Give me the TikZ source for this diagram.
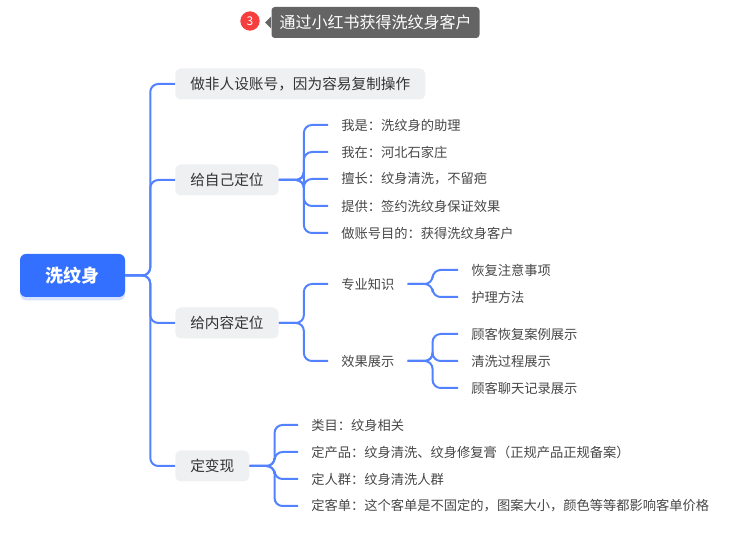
\documentclass[tikz,border=0pt]{standalone}
\usepackage{fontspec}
\setmainfont{Noto Sans CJK SC}
\definecolor{mmblue}{RGB}{51,112,255}
\definecolor{mmline}{RGB}{82,130,255}
\definecolor{mmgray}{RGB}{239,240,242}
\definecolor{mmtext}{RGB}{51,51,51}
\definecolor{mmdark}{RGB}{100,100,100}
\definecolor{mmred}{RGB}{245,63,63}
\usetikzlibrary{positioning,shadows}

\begin{document}
\begin{tikzpicture}[x=0.75pt,y=-0.75pt,
  root/.style={fill=mmblue,rounded corners=4.5pt,text=white,minimum width=78.75pt,minimum height=32.25pt,font=\fontsize{13.5}{16}\selectfont\bfseries,drop shadow={shadow xshift=0pt,shadow yshift=-2.5pt,opacity=0.2,fill=mmblue}},
  topic/.style={anchor=west,fill=mmgray,rounded corners=4pt,text=mmtext,minimum height=23.25pt,inner xsep=11.25pt,font=\fontsize{11}{13}\selectfont},
  leaf/.style={anchor=west,inner xsep=9.75pt,inner ysep=2pt,text=mmtext!90,font=\fontsize{9.95}{12}\selectfont},
  link/.style={draw=mmline,line width=1.5pt,rounded corners=6pt}]
  \useasboundingbox (0,0) rectangle (747,534);

  % title tag
  \node[fill=mmdark,rounded corners=2.5pt,text=white,minimum height=23.25pt,inner xsep=6pt,font=\fontsize{12}{14}\selectfont] (title) at (375.5,22.5) {通过小红书获得洗纹身客户};
  \fill[mmdark] (title.west) ++(0,-6) -- ++(-6,6) -- ++(6,6) -- cycle;
  \node[circle,fill=mmred,text=white,minimum size=14.5pt,inner sep=0pt,font=\fontsize{9}{10}\selectfont] (badge) at (250,21) {3};

  % root and first level
  \node[root] (root) at (72.5,275.5) {洗纹身};
  \node[topic] (t1) at (175,84) {做非人设账号，因为容易复制操作};
  \node[topic] (t2) at (175,180) {给自己定位};
  \node[topic] (t3) at (175,323) {给内容定位};
  \node[topic] (t4) at (175,466) {定变现};
  \foreach \t in {t1,t2,t3,t4}
    \draw[link] (root.east) -- ++(25,0) |- (\t.west);

  % 给自己定位
  \node[leaf] (a1) at (328,125) {我是：洗纹身的助理};
  \node[leaf] (a2) at (328,152) {我在：河北石家庄};
  \node[leaf] (a3) at (328,179) {擅长：纹身清洗，不留疤};
  \node[leaf] (a4) at (328,206) {提供：签约洗纹身保证效果};
  \node[leaf] (a5) at (328,233) {做账号目的：获得洗纹身客户};
  \foreach \l in {a1,a2,a3,a4,a5}
    \draw[link] (t2.east) -- ++(25,0) |- (\l.west);

  % 给内容定位
  \node[leaf] (b1) at (328,284) {专业知识};
  \node[leaf] (b2) at (328,361) {效果展示};
  \foreach \l in {b1,b2}
    \draw[link] (t3.east) -- ++(25,0) |- (\l.west);
  \node[leaf] (b11) at (458,270) {恢复注意事项};
  \node[leaf] (b12) at (458,297) {护理方法};
  \foreach \l in {b11,b12}
    \draw[link] (b1.east) -- ++(25,0) |- (\l.west);
  \node[leaf] (b21) at (458,334) {顾客恢复案例展示};
  \node[leaf] (b22) at (458,361) {清洗过程展示};
  \node[leaf] (b23) at (458,388) {顾客聊天记录展示};
  \foreach \l in {b21,b22,b23}
    \draw[link] (b2.east) -- ++(25,0) |- (\l.west);

  % 定变现
  \node[leaf] (c1) at (298,425) {类目：纹身相关};
  \node[leaf] (c2) at (298,452) {定产品：纹身清洗、纹身修复膏（正规产品正规备案）};
  \node[leaf] (c3) at (298,479) {定人群：纹身清洗人群};
  \node[leaf] (c4) at (298,506) {定客单：这个客单是不固定的，图案大小，颜色等等都影响客单价格};
  \foreach \l in {c1,c2,c3,c4}
    \draw[link] (t4.east) -- ++(25,0) |- (\l.west);
\end{tikzpicture}
\end{document}
